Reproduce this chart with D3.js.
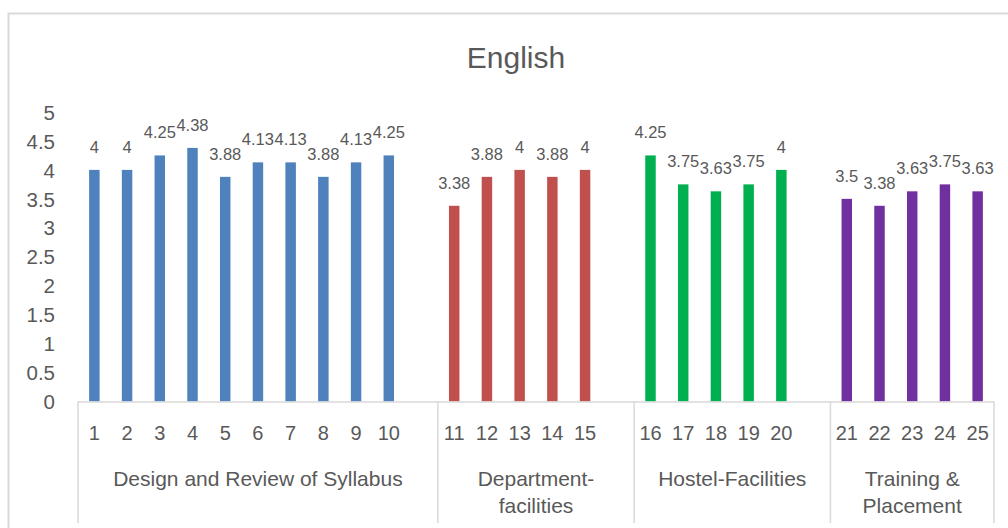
<!DOCTYPE html>
<html>
<head>
<meta charset="utf-8">
<script src="https://cdn.jsdelivr.net/npm/d3@7"></script>
<style>
  body { margin: 0; background: #fff; }
  svg text { font-family: "Liberation Sans", Arial, sans-serif; fill: #595959; }
</style>
</head>
<body>
<div id="chart"></div>
<script>
// Chart values
const title = 'English';
const groups = ['Design and Review of Syllabus', 'Department-\nfacilities', 'Hostel-Facilities', 'Training &\nPlacement'];
const groupSizes = [10, 5, 5, 5];
const questions = ['1', '2', '3', '4', '5', '6', '7', '8', '9', '10',
  '11', '12', '13', '14', '15',
  '16', '17', '18', '19', '20',
  '21', '22', '23', '24', '25'];
const scores = [4, 4, 4.25, 4.38, 3.88, 4.13, 4.13, 3.88, 4.13, 4.25,
  3.38, 3.88, 4, 3.88, 4,
  4.25, 3.75, 3.63, 3.75, 4,
  3.5, 3.38, 3.63, 3.75, 3.63];
const groupColors = ['#4F81BD', '#C0504D', '#00B050', '#7030A0'];

const width = 1008;
const height = 528;
const plot = { left: 78, right: 994, top: 112, bottom: 401.5 };

// Build the rows (each group gets one blank slot after it, except the last)
let rows = [];
let slots = [];
let groupSpans = [];
let k = 0;
groupSizes.forEach((n, g) => {
  const start = slots.length;
  for (let i = 0; i < n; i++) {
    rows.push({ q: questions[k], v: scores[k], g });
    slots.push(questions[k]);
    k++;
  }
  if (g < groupSizes.length - 1) slots.push('blank' + g);
  groupSpans.push([start, slots.length]);
});

const svg = d3.select('#chart')
  .append('svg')
  .attr('width', width)
  .attr('height', height);

// Outer chart border (left + top visible)
svg.append('path')
  .attr('d', `M8.5,${height} V13.5 H${width}`)
  .attr('fill', 'none')
  .attr('stroke', '#d9d9d9')
  .attr('stroke-width', 2);

// Title
svg.append('text')
  .attr('x', 516)
  .attr('y', 68)
  .attr('text-anchor', 'middle')
  .style('font-size', '30px')
  .text(title);

const x = d3.scaleBand()
  .domain(slots)
  .range([plot.left, plot.right])
  .paddingInner(0.68)
  .paddingOuter(0.34);

const y = d3.scaleLinear().domain([0, 5]).range([plot.bottom, plot.top]);

// Y axis, labels only
const yAxis = svg.append('g')
  .attr('transform', `translate(${plot.left - 14}, 0)`)
  .call(d3.axisLeft(y).tickValues(d3.range(0, 5.01, 0.5)).tickSize(0).tickFormat(d3.format('~g')));
yAxis.select('.domain').remove();
yAxis.selectAll('text')
  .style('font-size', '20.5px')
  .style('font-family', '"Liberation Sans", Arial, sans-serif')
  .attr('fill', '#595959')
  .attr('x', -9)
  .attr('dy', '0.35em');

// Bars
svg.append('g')
  .selectAll('rect')
  .data(rows)
  .join('rect')
  .attr('x', (d) => x(d.q))
  .attr('y', (d) => y(d.v))
  .attr('width', x.bandwidth())
  .attr('height', (d) => y(0) - y(d.v))
  .attr('fill', (d) => groupColors[d.g]);

// Data labels
svg.append('g')
  .selectAll('text')
  .data(rows)
  .join('text')
  .attr('x', (d) => x(d.q) + x.bandwidth() / 2)
  .attr('y', (d) => y(d.v) - 17)
  .attr('text-anchor', 'middle')
  .style('font-size', '16.5px')
  .text((d) => String(d.v));

// X axis baseline and group separators
const step = x.step();
const sepX = [plot.left].concat(groupSpans.map((s) => plot.left + s[1] * step));
svg.append('line')
  .attr('x1', plot.left).attr('x2', plot.right)
  .attr('y1', plot.bottom + 0.5).attr('y2', plot.bottom + 0.5)
  .attr('stroke', '#d9d9d9').attr('stroke-width', 1.5);
svg.append('g')
  .selectAll('line')
  .data(sepX)
  .join('line')
  .attr('x1', (d) => d).attr('x2', (d) => d)
  .attr('y1', plot.bottom).attr('y2', 523)
  .attr('stroke', '#d9d9d9').attr('stroke-width', 1.5);

// Question numbers
svg.append('g')
  .selectAll('text')
  .data(rows)
  .join('text')
  .attr('x', (d) => x(d.q) + x.bandwidth() / 2)
  .attr('y', 440)
  .attr('text-anchor', 'middle')
  .style('font-size', '20px')
  .text((d) => d.q);

// Group labels (may wrap to two lines)
const gl = svg.append('g')
  .selectAll('text')
  .data(groups)
  .join('text')
  .attr('x', (d, i) => plot.left + (groupSpans[i][0] + groupSpans[i][1]) / 2 * step)
  .attr('y', 486)
  .attr('text-anchor', 'middle')
  .style('font-size', '21px');
gl.selectAll('tspan')
  .data((d) => d.split('\n'))
  .join('tspan')
  .attr('x', function () { return this.parentNode.getAttribute('x'); })
  .attr('dy', (d, i) => (i === 0 ? 0 : 27))
  .text((d) => d);
</script>
</body>
</html>
